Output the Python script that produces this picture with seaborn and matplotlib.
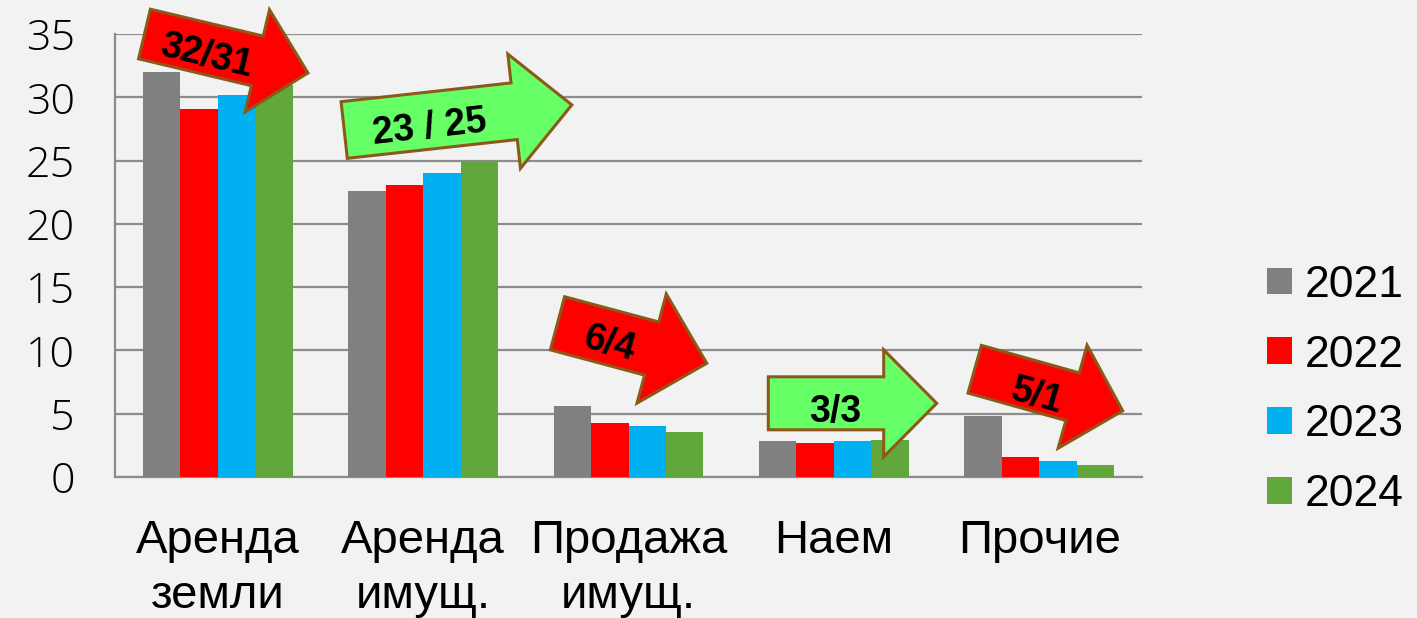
import numpy as np
import pandas as pd
import matplotlib
matplotlib.use("Agg")
import matplotlib.pyplot as plt
import seaborn as sns
from matplotlib.patches import Polygon

categories = ["Аренда\nземли", "Аренда\nимущ.", "Продажа\nимущ.", "Наем", "Прочие"]
years = ["2021", "2022", "2023", "2024"]
v2021 = [32.0, 22.6, 5.6, 2.85, 4.8]
v2022 = [29.1, 23.1, 4.3, 2.7, 1.6]
v2023 = [30.2, 24.0, 4.0, 2.85, 1.25]
v2024 = [31.0, 25.0, 3.55, 2.9, 0.95]
colors = ["#808080", "#FF0000", "#00B0F0", "#62A73B"]
arrow_labels = ["32/31", "23 / 25", "6/4", "3/3", "5/1"]

rows = []
for y, vals in zip(years, [v2021, v2022, v2023, v2024]):
    for c, v in zip(categories, vals):
        rows.append({"cat": c, "year": y, "val": v})
df = pd.DataFrame(rows)

sns.set_style("white")
plt.rcParams["font.family"] = ["Liberation Sans", "DejaVu Sans"]
plt.rcParams["text.color"] = "black"
plt.rcParams["xtick.color"] = "black"
plt.rcParams["ytick.color"] = "black"

W, H = 1417, 618
fig = plt.figure(figsize=(W / 100, H / 100), dpi=100)
fig.patch.set_facecolor("#f2f2f2")
ax = fig.add_axes([115 / W, 1 - 477 / H, (1142 - 115) / W, (477 - 34) / H])
ax.set_facecolor("none")

sns.barplot(data=df, x="cat", y="val", hue="year", palette=colors,
            width=0.73, gap=0, saturation=1, ax=ax, legend=True, zorder=3)
for p in ax.patches:
    p.set_edgecolor("none")

ax.set_ylim(0, 35)
ax.set_xlim(-0.5, 4.5)
ax.set_yticks(np.arange(0, 36, 5))
ax.yaxis.grid(True, color="#8c8c8c", linewidth=1.6, zorder=0)
ax.set_axisbelow(True)
for s in ["top", "right"]:
    ax.spines[s].set_visible(False)
for s in ["left", "bottom"]:
    ax.spines[s].set_color("#8c8c8c")
    ax.spines[s].set_linewidth(1.6)
ax.set_xlabel("")
ax.set_ylabel("")

ax.tick_params(axis="y", length=10.8, width=1.4, color="#8c8c8c", pad=18,
               labelsize=31, labelcolor="black")
for t in ax.get_yticklabels():
    t.set_fontfamily(["Open Sans", "DejaVu Sans"])
    t.set_fontweight("light")
ax.set_xticks(np.arange(-0.5, 4.6, 1.0), minor=True)
ax.tick_params(axis="x", which="minor", length=10.8, width=1.4, color="#8c8c8c")
ax.tick_params(axis="x", which="major", length=0, pad=30, labelsize=34, labelcolor="black")
for t in ax.get_xticklabels():
    t.set_linespacing(1.32)

handles, labels = ax.get_legend_handles_labels()
ax.legend_.remove()
fig.legend(handles, labels, loc="center left", bbox_to_anchor=(1245 / W, 1 - 390 / H),
           frameon=False, fontsize=32, handlelength=0.55, handleheight=0.55,
           handletextpad=0.3, labelspacing=0.65, borderpad=0, labelcolor="black")

def to_fig(px, py):
    return (px / W, 1 - py / H)

def arrow(tx, ty, L, ang, w, hw, hl, fc):
    a = np.deg2rad(ang)
    ux, uy = np.cos(a), np.sin(a)
    nx, ny = -uy, ux
    sl = L - hl
    local = [(0, -w / 2), (sl, -w / 2), (sl, -hw / 2), (L, 0),
             (sl, hw / 2), (sl, w / 2), (0, w / 2)]
    pts = [to_fig(tx + s * ux + t * nx, ty + s * uy + t * ny) for s, t in local]
    poly = Polygon(pts, closed=True, transform=fig.transFigure, facecolor=fc,
                   edgecolor="#8B5A1A", linewidth=2.2, zorder=5, joinstyle="miter")
    fig.patches.append(poly)

red, green = "#FF0000", "#66FF66"
arrow_specs = [
    (144.5, 34, 168, 13.4, 51, 105, 52, red),
    (344.2, 130, 229, -6.3, 57, 115, 58, green),
    (557.5, 323.3, 154.5, 15, 55, 113, 57, red),
    (768.3, 403.3, 168.4, 0, 53, 107, 53, green),
    (974.7, 369.2, 153.7, 15.7, 49.5, 107, 52, red),
]
text_specs = [(206.7, 56, -13.4), (430, 127.5, 6.3), (610, 344, -15),
              (835, 412, 0), (1036.7, 396, -15.7)]
for spec in arrow_specs:
    arrow(*spec)
for lab, (x, y, r) in zip(arrow_labels, text_specs):
    fx, fy = to_fig(x, y)
    fig.text(fx, fy, lab, fontsize=27, fontweight="bold", rotation=r, color="black",
             ha="center", va="center", rotation_mode="anchor", zorder=6)

fig.savefig("out.png", dpi=100, facecolor=fig.get_facecolor())
